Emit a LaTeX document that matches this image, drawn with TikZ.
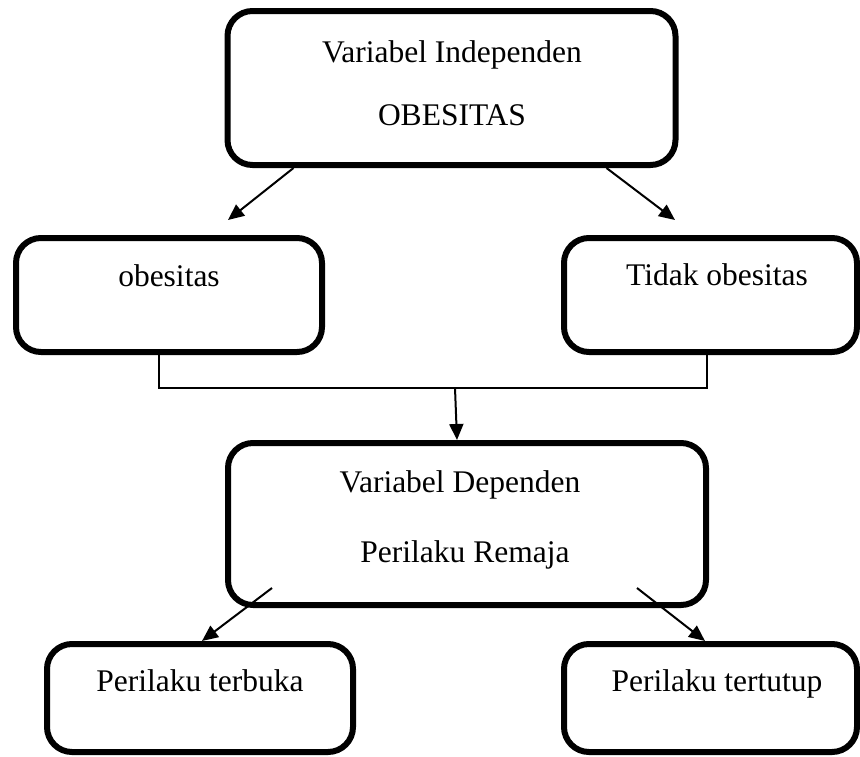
\documentclass[tikz,border=0pt]{standalone}
\usepackage{fontspec}
\setmainfont{Liberation Serif}
\usetikzlibrary{arrows.meta,calc}
\begin{document}
\begin{tikzpicture}[x=1pt,y=-1pt,
  box/.style={draw=black,line width=6pt,rounded corners=25pt,inner sep=0pt,fill=white},
  lbl/.style={inner sep=0pt,anchor=base,font=\fontsize{31.5}{37}\selectfont},
  arr/.style={line width=2pt,-{Triangle[length=16pt,width=14pt]}},
  bracket/.style={line width=1.5pt}]
\useasboundingbox (0,0) rectangle (860,756);
\fill[white] (0,0) rectangle (860,756);

% boxes
\node[box,minimum width=448pt,minimum height=154pt] (top) at (451.5,88) {};
\node[box,minimum width=306pt,minimum height=114pt] (obs) at (169,295) {};
\node[box,minimum width=293pt,minimum height=114pt] (tobs) at (710.5,295) {};
\node[box,minimum width=478pt,minimum height=162pt] (mid) at (467,524) {};
\node[box,minimum width=306pt,minimum height=108pt] (open) at (200,698) {};
\node[box,minimum width=293pt,minimum height=108pt] (closed) at (710.5,698) {};

% texts, placed on their baselines
\node[lbl] (t1) at (452,62) {Variabel Independen};
\node[lbl] (t2) at (452,125) {OBESITAS};
\node[lbl] (t3) at (169,286) {obesitas};
\node[lbl] (t4) at (717,285) {Tidak obesitas};
\node[lbl] (t5) at (460,492) {Variabel Dependen};
\node[lbl] (t6) at (465,562) {Perilaku Remaja};
\node[lbl] (t7) at (200,691) {Perilaku terbuka};
\node[lbl] (t8) at (717,691) {Perilaku tertutup};

% connector end points
\coordinate (a1s) at ($(top.south west)+(69,0)$);
\coordinate (a1e) at (228,220);
\coordinate (a2s) at ($(top.south west)+(382,0)$);
\coordinate (a2e) at (675,220);
\coordinate (jL) at (159,388);
\coordinate (jR) at (707,388);
\coordinate (jM) at (455,388);
\coordinate (a3e) at (457,440);
\coordinate (a4s) at (272,588);
\coordinate (a4e) at (202,641);
\coordinate (a5s) at (637,588);
\coordinate (a5e) at (705,641);

% connectors
\draw[arr] (a1s) -- (a1e);
\draw[arr] (a2s) -- (a2e);
\draw[bracket] (obs.south -| jL) -- (jL) -- (jR) -- ($(tobs.south -| jR)+(0,-3)$);
\draw[arr] (jM) -- (a3e);
\draw[arr] (a4s) -- (a4e);
\draw[arr] (a5s) -- (a5e);
\end{tikzpicture}
\end{document}
